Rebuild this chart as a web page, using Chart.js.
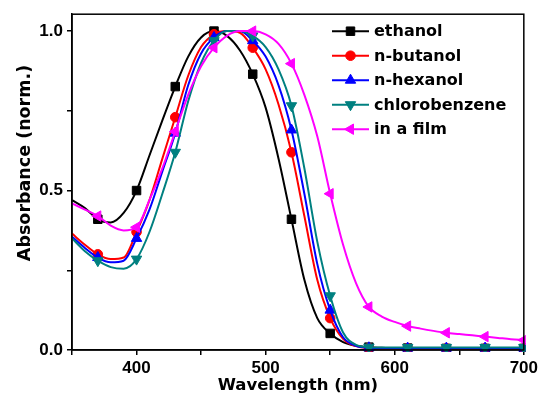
<!DOCTYPE html>
<html><head><meta charset="utf-8">
<script src="https://cdn.jsdelivr.net/npm/chart.js@4.4.0/dist/chart.umd.min.js"></script>
<style>html,body{margin:0;padding:0;background:#fff}#wrap{width:541px;height:403px}</style>
</head><body><div id="wrap"><canvas id="c" width="541" height="403"></canvas></div>
<script>
const wavelengths = [350,360,370,380,390,400,410,420,430,440,450,460,470,480,490,500,510,520,530,540,550,560,570,580,590,600,610,620,630,640,650,660,670,680,690,700];
const markerWavelengths = [370,400,430,460,490,520,550,580,610,640,670,700];
const seriesNames = ['ethanol','n-butanol','n-hexanol','chlorobenzene','in a film'];
const ethanol = [0.47,0.445,0.41,0.40,0.43,0.50,0.61,0.72,0.826,0.92,0.98,1.0,0.985,0.94,0.865,0.76,0.60,0.41,0.22,0.10,0.052,0.025,0.013,0.009,0.007,0.006,0.006,0.005,0.005,0.005,0.005,0.005,0.005,0.005,0.005,0.005];
const nButanol = [0.365,0.33,0.30,0.285,0.29,0.37,0.47,0.60,0.73,0.86,0.95,0.99,1.0,0.995,0.948,0.88,0.77,0.62,0.42,0.22,0.10,0.035,0.012,0.006,0.005,0.005,0.005,0.005,0.005,0.005,0.005,0.005,0.005,0.005,0.005,0.005];
const nHexanol = [0.355,0.32,0.29,0.275,0.28,0.35,0.44,0.56,0.68,0.83,0.93,0.98,1.0,1.0,0.97,0.92,0.83,0.69,0.49,0.27,0.125,0.04,0.013,0.007,0.006,0.006,0.006,0.006,0.006,0.006,0.006,0.006,0.006,0.006,0.006,0.006];
const chlorobenzene = [0.35,0.31,0.28,0.26,0.255,0.285,0.37,0.49,0.62,0.78,0.90,0.97,1.0,1.0,0.985,0.95,0.88,0.766,0.57,0.34,0.17,0.055,0.016,0.009,0.008,0.008,0.008,0.008,0.008,0.008,0.008,0.008,0.008,0.008,0.008,0.008];
const film = [0.46,0.44,0.42,0.39,0.375,0.385,0.47,0.57,0.685,0.80,0.89,0.948,0.985,1.0,1.0,0.99,0.96,0.898,0.80,0.67,0.49,0.33,0.21,0.135,0.105,0.088,0.075,0.067,0.060,0.054,0.050,0.046,0.042,0.038,0.034,0.031];
const xTickValues = [350,400,450,500,550,600,650,700];
const xTickLabels = {400:'400',500:'500',600:'600',700:'700'};
const yTickValues = [0,0.25,0.5,0.75,1.0];
const yTickLabels = {0:'0.0',0.5:'0.5',1:'1.0'};
const xTitle = 'Wavelength (nm)';
const yTitle = 'Absorbance (norm.)';

const colors = ['#000000','#ff0000','#0000ff','#008080','#ff00ff'];
const styles = [
  {pointStyle:'rect', rotation:0, radius:6},
  {pointStyle:'circle', rotation:0, radius:4.8},
  {pointStyle:'triangle', rotation:0, radius:6},
  {pointStyle:'triangle', rotation:180, radius:6},
  {pointStyle:'triangle', rotation:270, radius:6}
];
const allSeries = [ethanol,nButanol,nHexanol,chlorobenzene,film];

const datasets = allSeries.map((arr,i)=>({
  label: seriesNames[i],
  data: arr.map((v,j)=>({x:wavelengths[j], y:v})),
  borderColor: colors[i],
  backgroundColor: colors[i],
  borderWidth: 2,
  pointStyle: styles[i].pointStyle,
  rotation: styles[i].rotation,
  pointRotation: styles[i].rotation,
  pointBorderWidth: 1,
  pointRadius: ctx => markerWavelengths.includes(wavelengths[ctx.dataIndex]) ? styles[i].radius : 0,
  pointHoverRadius: 0,
  cubicInterpolationMode: 'monotone',
  order: 4 - i,
  clip: 2
}));

const tickFont = {family:'Liberation Sans', weight:'bold', size:17};

const decorPlugin = {
  id:'decor',
  afterDraw(chart){
    const {ctx, chartArea:a} = chart;
    ctx.save();
    ctx.strokeStyle = '#000';
    ctx.lineWidth = 1.5;
    ctx.strokeRect(a.left, a.top, a.right - a.left, a.bottom - a.top);
    // legend
    ctx.font = 'bold 16px "DejaVu Sans"';
    ctx.textBaseline = 'middle';
    ctx.textAlign = 'left';
    seriesNames.forEach((name,i)=>{
      const y = a.top + 17 + i*24.5;
      ctx.strokeStyle = colors[i];
      ctx.lineWidth = 2;
      ctx.beginPath(); ctx.moveTo(332,y); ctx.lineTo(369,y); ctx.stroke();
      ctx.fillStyle = colors[i];
      ctx.strokeStyle = colors[i];
      ctx.lineWidth = 1;
      Chart.helpers.drawPoint(ctx, {pointStyle:styles[i].pointStyle, rotation:styles[i].rotation, radius:styles[i].radius, borderWidth:1}, 350.5, y);
      ctx.fillStyle = '#000';
      ctx.fillText(name, 374, y+1);
    });
    // axis titles
    ctx.fillStyle = '#000';
    ctx.font = 'bold 16.5px "DejaVu Sans"';
    ctx.textAlign = 'center';
    ctx.textBaseline = 'alphabetic';
    ctx.fillText(xTitle, (a.left + a.right)/2, 390);
    ctx.save();
    ctx.translate(30, 163);
    ctx.rotate(-Math.PI/2);
    ctx.font = 'bold 17.5px "DejaVu Sans"';
    ctx.fillText(yTitle, 0, 0);
    ctx.restore();
    ctx.restore();
  }
};

new Chart(document.getElementById('c'), {
  type:'line',
  data:{datasets},
  options:{
    responsive:false,
    animation:false,
    devicePixelRatio:1,
    layout:{padding:{top:13,right:16,left:0,bottom:0}},
    plugins:{legend:{display:false}, tooltip:{enabled:false}},
    scales:{
      x:{
        type:'linear', min:350, max:700,
        afterBuildTicks: s => { s.ticks = xTickValues.map(v=>({value:v})); },
        afterFit: s => { s.height = 53; },
        grid:{drawOnChartArea:false, drawTicks:true, tickLength:5, color:'#000', lineWidth:1.5},
        border:{display:true, color:'#000', width:1.5},
        ticks:{color:'#000', font:tickFont, padding:3, maxRotation:0, autoSkip:false,
          callback: v => xTickLabels[v] ?? ''}
      },
      y:{
        type:'linear', min:0, max:1.053,
        afterBuildTicks: s => { s.ticks = yTickValues.map(v=>({value:v})); },
        afterFit: s => { s.width = 72; },
        grid:{drawOnChartArea:false, drawTicks:true, tickLength:5, color:'#000', lineWidth:1.5},
        border:{display:true, color:'#000', width:1.5},
        ticks:{color:'#000', font:tickFont, padding:4, autoSkip:false,
          callback: v => yTickLabels[v] ?? ''}
      }
    }
  },
  plugins:[decorPlugin]
});
</script></body></html>
